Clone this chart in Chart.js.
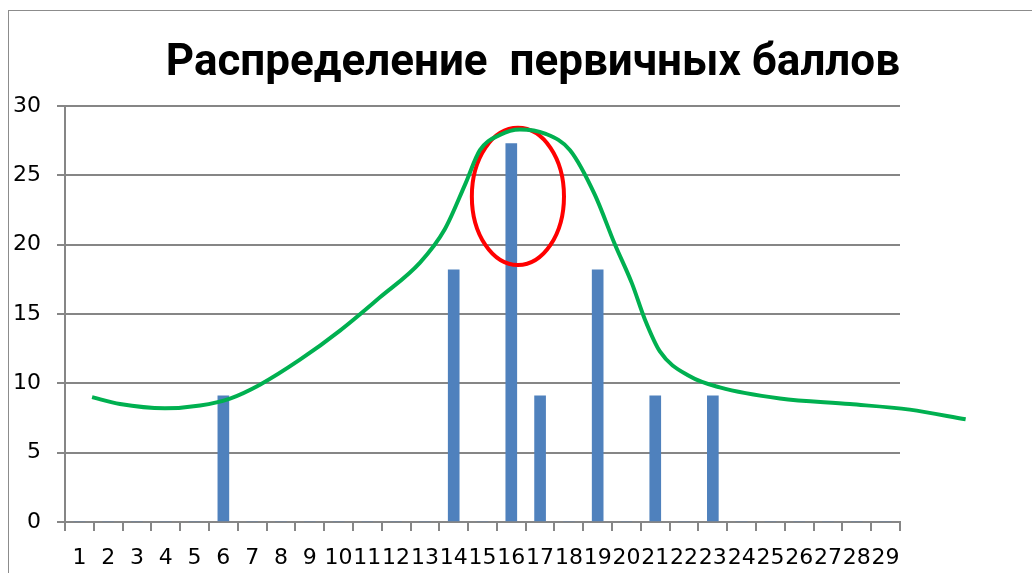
<!DOCTYPE html>
<html lang="ru">
<head>
  <meta charset="UTF-8" />
  <title>Распределение первичных баллов</title>
  <script src="https://cdn.jsdelivr.net/npm/chart.js"></script>
  <style>
    body { margin: 0; background: #fff; overflow: hidden; }
    #frame { position: absolute; left: 8px; top: 10px; width: 1040px; height: 580px; border: 1px solid #8c8c8c; pointer-events: none; }
    canvas { position: absolute; left: 0; top: 0; }
  </style>
</head>
<body>
  <div id="frame"></div>
  <canvas id="chart" width="1032" height="573"></canvas>

  <script>
    // баллы 1..29
    const labels = ["1","2","3","4","5","6","7","8","9","10","11","12","13","14","15","16","17","18","19","20","21","22","23","24","25","26","27","28","29"];
    // доля учащихся, %
    const percent = [0,0,0,0,0,9.09,0,0,0,0,0,0,0,18.18,0,27.27,9.09,0,18.18,0,9.09,0,9.09,0,0,0,0,0,0];

    // зелёная кривая от руки (x — в единицах баллов)
    const curveX = [1.44, 2.41, 3.97, 5.19, 6.23, 7.27, 8.66, 10.05, 11.44, 12.83, 13.69, 14.39, 14.91, 15.6, 16.3, 17.17, 18.04, 18.9, 19.6, 20.19, 20.64, 21.16, 22.2, 23.24, 25.33, 27.76, 29.84, 31.78];
    const curveY = [9.0, 8.5, 8.2, 8.4, 8.9, 9.9, 11.7, 13.8, 16.2, 18.7, 21.1, 24.3, 26.8, 27.9, 28.3, 28.0, 26.8, 23.6, 20.0, 17.2, 14.6, 12.3, 10.5, 9.7, 8.9, 8.5, 8.1, 7.4];

    // красный овал вокруг пика
    const ringCenter = { x: 16.23, y: 23.47 };
    const ringRadius = { x: 1.6, y: 4.94 };

    const ringPlugin = {
      id: 'ring',
      afterDatasetDraw(chart, args) {
        if (args.index !== 0) return;
        const xs = chart.scales.xc, ys = chart.scales.y;
        const cx = xs.getPixelForValue(ringCenter.x);
        const cy = ys.getPixelForValue(ringCenter.y);
        const rx = Math.abs(xs.getPixelForValue(ringCenter.x + ringRadius.x) - cx);
        const ry = Math.abs(ys.getPixelForValue(ringCenter.y + ringRadius.y) - cy);
        const c = chart.ctx;
        c.save();
        c.strokeStyle = '#ff0000';
        c.lineWidth = 4;
        c.beginPath();
        c.ellipse(cx, cy, rx, ry, 0, 0, Math.PI * 2);
        c.stroke();
        c.restore();
      }
    };

    const tickFont = { family: "'DejaVu Sans', sans-serif", size: 22 };

    new Chart(document.getElementById("chart"), {
      type: 'bar',
      data: {
        labels: labels,
        datasets: [
          {
            data: percent,
            backgroundColor: '#4f81bd',
            barThickness: 11,
            grouped: false,
            order: 2
          },
          {
            type: 'line',
            data: curveX.map((x, i) => ({ x: x, y: curveY[i] })),
            xAxisID: 'xc',
            borderColor: '#00b050',
            borderWidth: 4,
            pointRadius: 0,
            tension: 0.4,
            cubicInterpolationMode: 'monotone',
            clip: false,
            order: 1
          }
        ]
      },
      options: {
        responsive: false,
        animation: false,
        layout: { padding: { left: 0, right: 132, top: 0, bottom: 0 } },
        plugins: {
          legend: { display: false },
          tooltip: { enabled: false },
          title: {
            display: true,
            align: 'end',
            text: 'Распределение  первичных баллов',
            color: '#000',
            font: { family: "Roboto, sans-serif", size: 44, weight: 'bold' },
            padding: { top: 38, bottom: 15 }
          }
        },
        scales: {
          x: {
            grid: { offset: true, drawOnChartArea: false, color: '#868686', lineWidth: 2, tickLength: 9 },
            border: { color: '#868686', width: 2 },
            ticks: { color: '#000', font: tickFont, autoSkip: false, maxRotation: 0, padding: 14 },
            afterFit: (s) => { s.height = 51; }
          },
          xc: {
            type: 'linear',
            display: false,
            offset: false,
            bounds: 'data',
            grid: { offset: false },
            // границы ставим здесь, а не через min/max, чтобы хвост кривой за осью не отсекался
            afterDataLimits: (s) => { s.min = 0.5; s.max = 29.5; }
          },
          y: {
            min: 0,
            max: 30,
            grid: { color: '#868686', lineWidth: 2, tickLength: 8 },
            border: { color: '#868686', width: 2 },
            ticks: { stepSize: 5, color: '#000', font: tickFont, padding: 16 },
            afterFit: (s) => { s.width = 65; }
          }
        }
      },
      plugins: [ringPlugin]
    });
  </script>
</body>
</html>
